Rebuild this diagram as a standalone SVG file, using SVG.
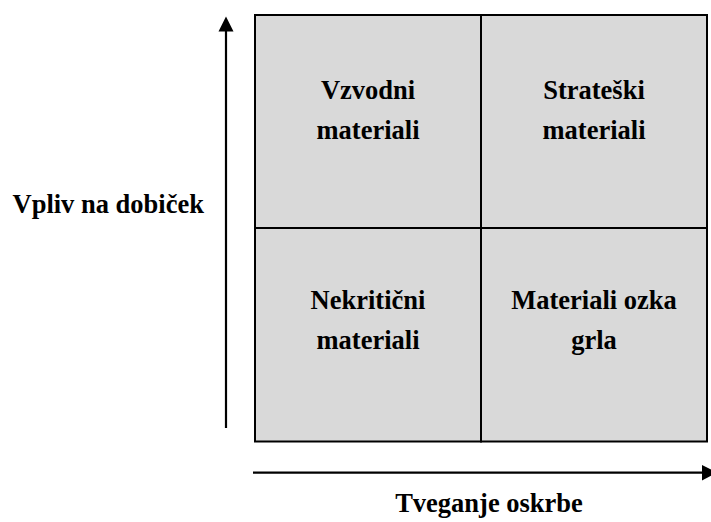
<svg xmlns="http://www.w3.org/2000/svg" width="711" height="522" viewBox="0 0 711 522">
<style>
.q{fill:#d9d9d9;stroke:#000;stroke-width:2}
.t{font-family:"Liberation Serif","Times New Roman",serif;font-weight:bold;font-size:26.5px;fill:#000}
.c{text-anchor:middle}
.ax{stroke:#000;stroke-width:2.2;fill:none}
</style>
<g id="connectors">
<line class="ax" x1="226" y1="428" x2="226" y2="30"/>
<polygon points="226,16.5 218.5,31.5 233.5,31.5" fill="#000"/>
<line class="ax" x1="253" y1="472.7" x2="703" y2="472.7"/>
<polygon points="717,472.7 702,465 702,480.4" fill="#000"/>
</g>
<g id="q-vzvodni">
<rect class="q" x="255" y="15" width="226" height="213"/>
<text class="t c" x="368" y="99.3">Vzvodni</text>
<text class="t c" x="368" y="139.3">materiali</text>
</g>
<g id="q-strateski">
<rect class="q" x="481" y="15" width="226" height="213"/>
<text class="t c" x="594" y="99.3">Strateški</text>
<text class="t c" x="594" y="139.3">materiali</text>
</g>
<g id="q-nekriticni">
<rect class="q" x="255" y="228" width="226" height="213.5"/>
<text class="t c" x="368" y="309.3">Nekritični</text>
<text class="t c" x="368" y="349.3">materiali</text>
</g>
<g id="q-ozka">
<rect class="q" x="481" y="228" width="226" height="213.5"/>
<text class="t c" x="594" y="309.3">Materiali ozka</text>
<text class="t c" x="594" y="349.3">grla</text>
</g>
<g id="label-y">
<text class="t" x="12.5" y="213">Vpliv na dobiček</text>
</g>
<g id="label-x">
<text class="t c" x="489" y="511.7">Tveganje oskrbe</text>
</g>
</svg>
